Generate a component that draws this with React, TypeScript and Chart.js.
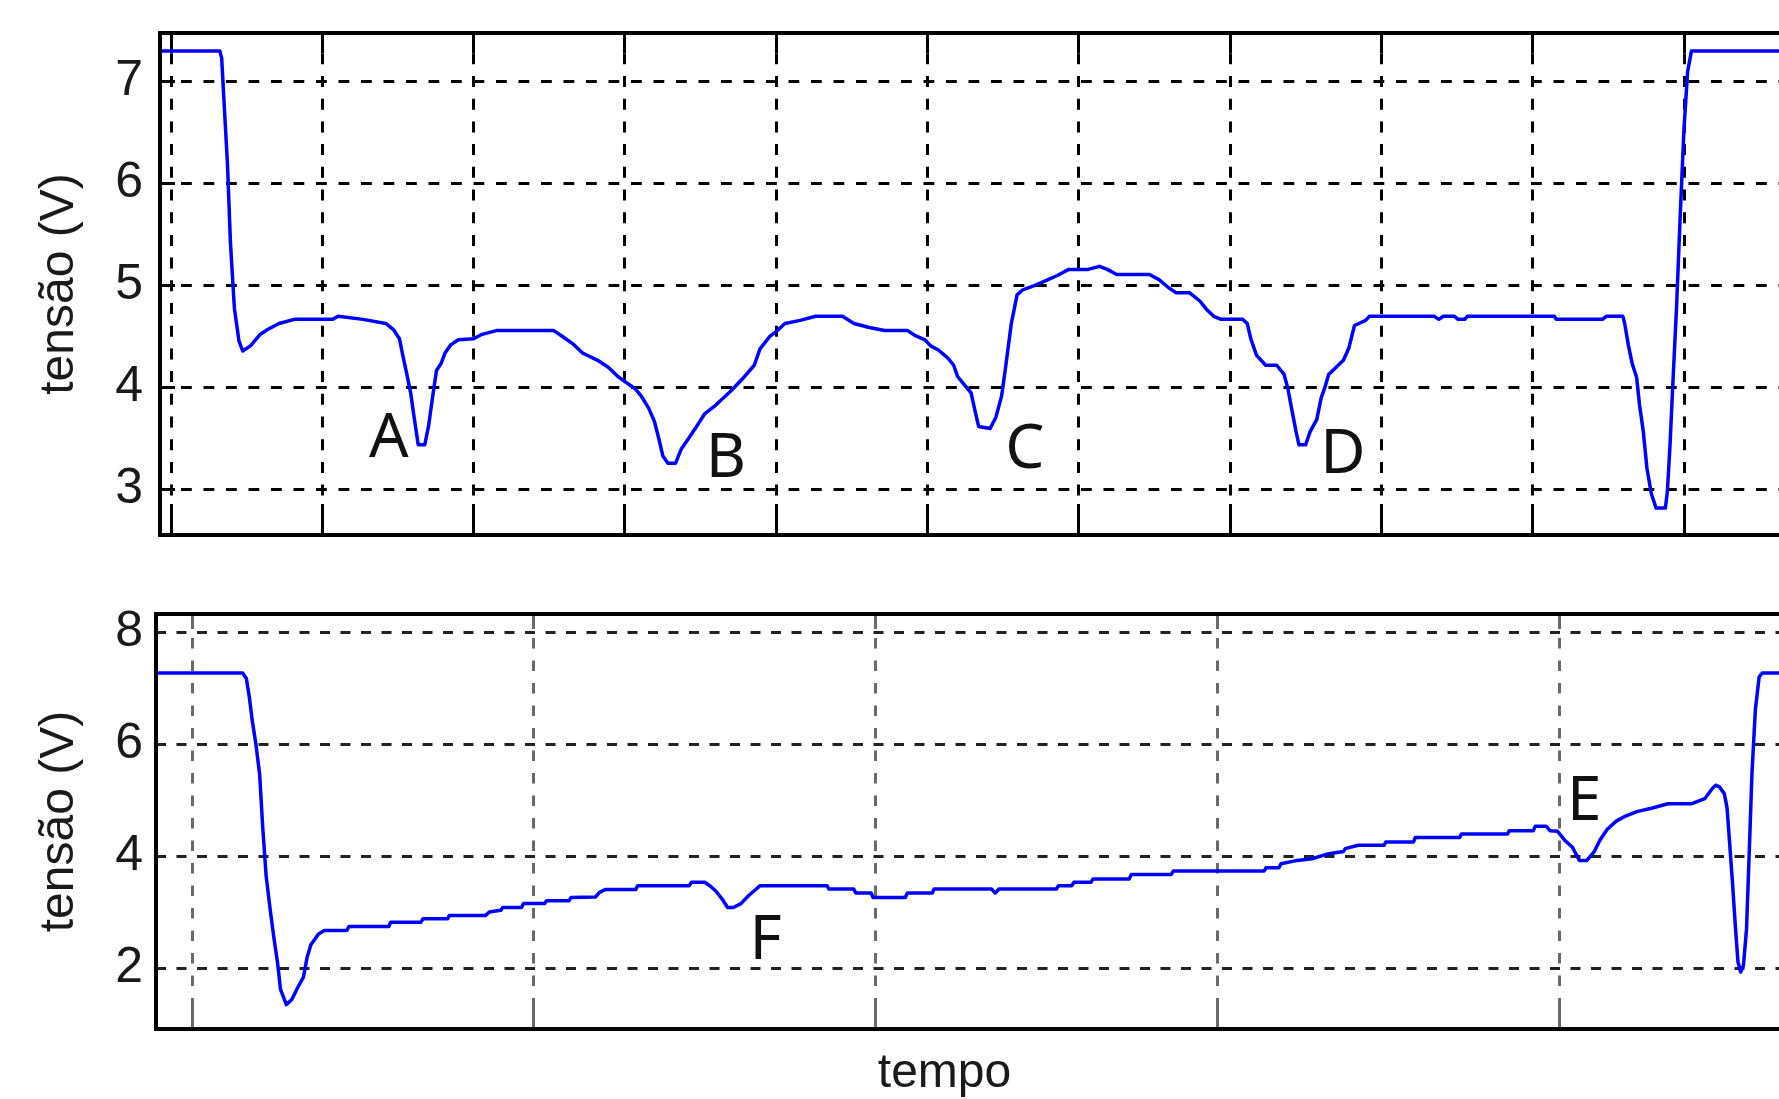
import React, { useEffect, useRef } from "react";
import { Chart, registerables } from "chart.js";

Chart.register(...registerables);

// ---------------- data ----------------
const yTitle = "tensão (V)";
const xTitle = "tempo";

const topTime = [
  -0.08, 0.323, 0.335, 0.348, 0.373, 0.393, 0.419, 0.449, 0.474, 0.525,
  0.588, 0.638, 0.714, 0.815, 1.067, 1.105, 1.269, 1.42, 1.47, 1.51,
  1.533, 1.559, 1.584, 1.604, 1.634, 1.677, 1.702, 1.73, 1.755, 1.786,
  1.811, 1.849, 1.899, 2.0, 2.05, 2.151, 2.53, 2.59, 2.656, 2.72,
  2.83, 2.89, 2.954, 3.0, 3.068, 3.107, 3.157, 3.195, 3.226, 3.251,
  3.284, 3.335, 3.373, 3.424, 3.487, 3.525, 3.601, 3.702, 3.779, 3.855,
  3.893, 3.956, 4.007, 4.058, 4.159, 4.26, 4.438, 4.514, 4.616, 4.717,
  4.869, 4.92, 4.983, 5.021, 5.072, 5.135, 5.173, 5.199, 5.237, 5.288,
  5.313, 5.338, 5.414, 5.452, 5.49, 5.516, 5.554, 5.592, 5.63, 5.706,
  5.782, 5.858, 5.934, 6.061, 6.137, 6.188, 6.251, 6.467, 6.53, 6.594,
  6.644, 6.733, 6.8, 6.843, 6.892, 6.941, 7.083, 7.113, 7.137, 7.174,
  7.235, 7.308, 7.357, 7.382, 7.406, 7.436, 7.455, 7.499, 7.529, 7.573,
  7.602, 7.626, 7.651, 7.749, 7.785, 7.822, 7.896, 7.92, 8.348, 8.38,
  8.409, 8.483, 8.507, 8.551, 8.568, 9.143, 9.156, 9.461, 9.486, 9.596,
  9.608, 9.633, 9.657, 9.687, 9.706, 9.731, 9.755, 9.784, 9.816, 9.877,
  9.89, 9.907, 9.926, 9.951, 9.975, 10.0, 10.024, 10.049, 10.7,
];
const topVoltage = [
  7.3, 7.3, 7.23, 6.87, 6.2, 5.42, 4.78, 4.46, 4.36, 4.41,
  4.52, 4.57, 4.63, 4.67, 4.67, 4.7, 4.67, 4.63, 4.57, 4.48,
  4.31, 4.13, 3.95, 3.74, 3.44, 3.44, 3.62, 3.92, 4.17, 4.24,
  4.34, 4.42, 4.47, 4.48, 4.52, 4.56, 4.56, 4.5, 4.43, 4.34,
  4.26, 4.2, 4.11, 4.06, 3.99, 3.92, 3.8, 3.67, 3.49, 3.33,
  3.26, 3.26, 3.4, 3.51, 3.65, 3.74, 3.83, 3.97, 4.09, 4.22,
  4.38, 4.5, 4.56, 4.63, 4.66, 4.7, 4.7, 4.63, 4.59, 4.56,
  4.56, 4.51, 4.47, 4.41, 4.37, 4.29, 4.22, 4.11, 4.04, 3.95,
  3.78, 3.62, 3.6, 3.71, 3.92, 4.2, 4.63, 4.91, 4.96, 5.0,
  5.05, 5.1, 5.16, 5.16, 5.19, 5.16, 5.11, 5.11, 5.06, 4.98,
  4.93, 4.93, 4.85, 4.77, 4.7, 4.67, 4.67, 4.63, 4.48, 4.32,
  4.22, 4.22, 4.13, 3.99, 3.8, 3.57, 3.44, 3.44, 3.57, 3.69,
  3.9, 4.0, 4.13, 4.27, 4.39, 4.61, 4.66, 4.7, 4.7, 4.67,
  4.7, 4.7, 4.67, 4.67, 4.7, 4.7, 4.67, 4.67, 4.7, 4.7,
  4.63, 4.41, 4.24, 4.1, 3.83, 3.57, 3.21, 2.96, 2.82, 2.82,
  2.98, 3.42, 4.03, 4.8, 5.69, 6.54, 7.1, 7.3, 7.3,
];

const bottomTime = [
  -0.11, 0.148, 0.159, 0.168, 0.176, 0.187, 0.198, 0.207, 0.217, 0.229,
  0.239, 0.25, 0.259, 0.276, 0.292, 0.309, 0.326, 0.337, 0.348, 0.359,
  0.37, 0.387, 0.453, 0.459, 0.576, 0.581, 0.67, 0.676, 0.748, 0.753,
  0.859, 0.87, 0.903, 0.909, 0.964, 0.97, 1.031, 1.037, 1.103, 1.109,
  1.181, 1.192, 1.209, 1.298, 1.304, 1.455, 1.461, 1.5, 1.517, 1.533,
  1.55, 1.567, 1.584, 1.606, 1.628, 1.651, 1.662, 1.858, 1.863, 1.936,
  1.942, 1.987, 1.992, 2.087, 2.093, 2.166, 2.171, 2.339, 2.35, 2.361,
  2.529, 2.535, 2.574, 2.58, 2.63, 2.636, 2.742, 2.748, 2.865, 2.871,
  3.137, 3.142, 3.18, 3.186, 3.234, 3.277, 3.326, 3.369, 3.374, 3.412,
  3.488, 3.493, 3.574, 3.579, 3.709, 3.714, 3.849, 3.854, 3.924, 3.93,
  3.962, 3.973, 3.995, 4.016, 4.038, 4.059, 4.081, 4.102, 4.119, 4.14,
  4.167, 4.194, 4.227, 4.27, 4.318, 4.388, 4.426, 4.448, 4.458, 4.469,
  4.483, 4.491, 4.498, 4.507, 4.516, 4.523, 4.531, 4.539, 4.548, 4.556,
  4.564, 4.574, 4.585, 4.594, 4.7,
];
const bottomVoltage = [
  7.27, 7.27, 7.17, 6.83, 6.43, 6.0, 5.46, 4.51, 3.65, 3.04,
  2.58, 2.12, 1.63, 1.36, 1.45, 1.66, 1.85, 2.21, 2.43, 2.52,
  2.62, 2.68, 2.68, 2.75, 2.75, 2.83, 2.83, 2.89, 2.89, 2.95,
  2.95, 3.01, 3.04, 3.09, 3.09, 3.16, 3.16, 3.21, 3.21, 3.27,
  3.28, 3.36, 3.41, 3.41, 3.48, 3.48, 3.54, 3.54, 3.47, 3.38,
  3.25, 3.09, 3.09, 3.16, 3.3, 3.42, 3.48, 3.48, 3.42, 3.42,
  3.35, 3.35, 3.27, 3.27, 3.35, 3.35, 3.42, 3.42, 3.35, 3.42,
  3.42, 3.48, 3.48, 3.54, 3.54, 3.6, 3.6, 3.68, 3.68, 3.74,
  3.74, 3.8, 3.8, 3.87, 3.93, 3.96, 4.05, 4.09, 4.14, 4.2,
  4.2, 4.26, 4.26, 4.34, 4.34, 4.4, 4.4, 4.46, 4.46, 4.54,
  4.54, 4.46, 4.45, 4.29, 4.17, 3.93, 3.93, 4.08, 4.29, 4.48,
  4.63, 4.72, 4.8, 4.86, 4.94, 4.94, 5.03, 5.21, 5.27, 5.24,
  5.12, 4.87, 4.29, 3.53, 2.7, 2.12, 1.94, 2.06, 2.7, 4.08,
  5.49, 6.62, 7.2, 7.27, 7.27,
];

const topTimeGrid = [0, 1, 2, 3, 4, 5, 6, 7, 8, 9, 10];
const topVoltTicks = [3, 4, 5, 6, 7];
const bottomTimeGrid = [0, 1, 2, 3, 4];
const bottomVoltTicks = [2, 4, 6, 8];

const topMarkLabels = ["A", "B", "C", "D"];
const topMarkTime = [1.44, 3.668, 5.644, 7.746];
const topMarkVolt = [3.316, 3.122, 3.215, 3.168];
const bottomMarkLabels = ["F", "E"];
const bottomMarkTime = [1.678, 4.073];
const bottomMarkVolt = [2.171, 4.649];

// ---------------- styling ----------------
const SANS = "'Liberation Sans', Arial, sans-serif";
const TEXT = "#1a1a1a";

type Panel = {
  time: number[];
  volt: number[];
  xGrid: number[];
  yTicks: number[];
  marks: { labels: string[]; time: number[]; volt: number[] };
  width: number;
  height: number;
  padTop: number;
  padBottom: number;
  yAxisWidth: number;
  xAxisHeight: number;
  xMin: number;
  xMax: number;
  yMin: number;
  yMax: number;
  tickPad: number;
  showXTitle: boolean;
  vColor: string;
  vWidth: number;
  vDash: number[];
  vOffset: number;
  hColor: string;
  hWidth: number;
  hDash: number[];
  hOffset: number;
  topTick: number;
  bottomTick: number;
  leftTick: number;
};

const W = 1889;

const topPanel: Panel = {
  time: topTime,
  volt: topVoltage,
  xGrid: topTimeGrid,
  yTicks: topVoltTicks,
  marks: { labels: topMarkLabels, time: topMarkTime, volt: topMarkVolt },
  width: W,
  height: 570,
  padTop: 33,
  padBottom: 15,
  yAxisWidth: 160,
  xAxisHeight: 20,
  xMin: -11 / 151.3,
  xMax: (W - 171) / 151.3,
  yMin: 2.556,
  yMax: 7.4775,
  tickPad: 17,
  showXTitle: false,
  vColor: "#000",
  vWidth: 3,
  vDash: [11, 11.7],
  vOffset: 2.4,
  hColor: "#000",
  hWidth: 3,
  hDash: [10.8, 11.7],
  hOffset: 1.5,
  topTick: 20,
  bottomTick: 31,
  leftTick: 15,
};

const bottomPanel: Panel = {
  time: bottomTime,
  volt: bottomVoltage,
  xGrid: bottomTimeGrid,
  yTicks: bottomVoltTicks,
  marks: { labels: bottomMarkLabels, time: bottomMarkTime, volt: bottomMarkVolt },
  width: W,
  height: 560,
  padTop: 54,
  padBottom: 17.8,
  yAxisWidth: 156,
  xAxisHeight: 15.6,
  xMin: -36 / 341.8,
  xMax: (W - 192) / 341.8,
  yMin: 0.9255,
  yMax: 8.321,
  tickPad: 13,
  showXTitle: true,
  vColor: "#6a6a6a",
  vWidth: 3,
  vDash: [10.5, 12],
  vOffset: 21,
  hColor: "#222",
  hWidth: 3,
  hDash: [10, 10.5],
  hOffset: 0,
  topTick: 15,
  bottomTick: 31,
  leftTick: 0,
};

function align(px: number, w: number) {
  return Math.round(px - w / 2) + w / 2;
}

function buildConfig(p: Panel): any {
  const data = p.time.map((t, i) => ({ x: t, y: p.volt[i] }));

  const framePlugin = {
    id: "frameAndTicks",
    beforeDatasetsDraw(chart: any) {
      const { ctx, chartArea: a, scales } = chart;
      const xs = scales.x;
      const ys = scales.y;
      ctx.save();
      ctx.setLineDash([]);
      ctx.lineCap = "butt";
      ctx.strokeStyle = p.vColor;
      ctx.lineWidth = p.vWidth;
      p.xGrid.forEach((v) => {
        const px = align(xs.getPixelForValue(v), p.vWidth);
        ctx.beginPath();
        ctx.moveTo(px, a.top);
        ctx.lineTo(px, a.top + p.topTick);
        ctx.moveTo(px, a.bottom);
        ctx.lineTo(px, a.bottom - p.bottomTick);
        ctx.stroke();
      });
      if (p.leftTick > 0) {
        ctx.strokeStyle = p.hColor;
        ctx.lineWidth = p.hWidth;
        p.yTicks.forEach((v) => {
          const py = align(ys.getPixelForValue(v), p.hWidth);
          ctx.beginPath();
          ctx.moveTo(a.left, py);
          ctx.lineTo(a.left + p.leftTick, py);
          ctx.stroke();
        });
      }
      ctx.restore();
    },
    afterDatasetsDraw(chart: any) {
      const { ctx, chartArea: a, scales } = chart;
      ctx.save();
      ctx.setLineDash([]);
      ctx.strokeStyle = "#000";
      ctx.lineWidth = 4;
      ctx.strokeRect(a.left, a.top, a.right - a.left, a.bottom - a.top);
      // letter annotations
      ctx.font = "62px 'Noto Sans', sans-serif";
      ctx.fillStyle = "#111";
      ctx.textAlign = "center";
      ctx.textBaseline = "alphabetic";
      p.marks.labels.forEach((l, i) => {
        ctx.fillText(
          l,
          scales.x.getPixelForValue(p.marks.time[i]),
          scales.y.getPixelForValue(p.marks.volt[i])
        );
      });
      ctx.restore();
    },
  };

  return {
    type: "line",
    data: {
      datasets: [
        {
          data,
          borderColor: "#0000ff",
          borderWidth: 3.5,
          pointRadius: 0,
          tension: 0,
          fill: false,
          borderJoinStyle: "round",
        },
      ],
    },
    options: {
      animation: false,
      responsive: false,
      devicePixelRatio: 1,
      events: [],
      layout: { padding: { top: p.padTop, bottom: p.padBottom, left: 0, right: 0 } },
      plugins: {
        legend: { display: false },
        tooltip: { enabled: false },
        title: p.showXTitle
          ? {
              display: true,
              text: xTitle,
              position: "bottom",
              color: TEXT,
              font: { family: SANS, size: 48, weight: "normal", lineHeight: 1.2 },
              padding: { top: 0, bottom: 0 },
            }
          : { display: false },
      },
      scales: {
        x: {
          type: "linear",
          min: p.xMin,
          max: p.xMax,
          afterBuildTicks: (s: any) => {
            s.ticks = p.xGrid.map((v) => ({ value: v }));
          },
          afterFit: (s: any) => {
            s.height = p.xAxisHeight;
            s.paddingLeft = 0;
            s.paddingRight = 0;
            s.paddingTop = 0;
            s.paddingBottom = 0;
          },
          ticks: { display: false },
          grid: { color: p.vColor, lineWidth: p.vWidth, drawTicks: false },
          border: { display: false, dash: p.vDash, dashOffset: p.vOffset },
        },
        y: {
          type: "linear",
          min: p.yMin,
          max: p.yMax,
          afterBuildTicks: (s: any) => {
            s.ticks = p.yTicks.map((v) => ({ value: v }));
          },
          afterFit: (s: any) => {
            s.width = p.yAxisWidth;
            s.paddingTop = 0;
            s.paddingBottom = 0;
            s.paddingLeft = 0;
            s.paddingRight = 0;
          },
          ticks: {
            color: TEXT,
            padding: p.tickPad,
            font: { family: SANS, size: 50, weight: "normal" },
          },
          grid: { color: p.hColor, lineWidth: p.hWidth, drawTicks: false },
          border: { display: false, dash: p.hDash, dashOffset: p.hOffset },
          title: {
            display: true,
            text: yTitle,
            color: TEXT,
            font: { family: SANS, size: 48, weight: "normal", lineHeight: 1.2 },
            padding: { top: 31.2, bottom: 0 },
          },
        },
      },
    },
    plugins: [framePlugin],
  };
}

export default function App() {
  const topRef = useRef<HTMLCanvasElement>(null);
  const botRef = useRef<HTMLCanvasElement>(null);

  useEffect(() => {
    const c1 = new Chart(topRef.current as HTMLCanvasElement, buildConfig(topPanel));
    const c2 = new Chart(botRef.current as HTMLCanvasElement, buildConfig(bottomPanel));
    return () => {
      c1.destroy();
      c2.destroy();
    };
  }, []);

  return (
    <div
      style={{
        position: "fixed",
        left: 0,
        top: 0,
        width: "100vw",
        height: "100vh",
        overflow: "hidden",
        background: "#fff",
      }}
    >
      <canvas
        ref={topRef}
        width={topPanel.width}
        height={topPanel.height}
        style={{ position: "absolute", left: 0, top: 0, width: topPanel.width, height: topPanel.height }}
      />
      <canvas
        ref={botRef}
        width={bottomPanel.width}
        height={bottomPanel.height}
        style={{ position: "absolute", left: 0, top: 560, width: bottomPanel.width, height: bottomPanel.height }}
      />
    </div>
  );
}
